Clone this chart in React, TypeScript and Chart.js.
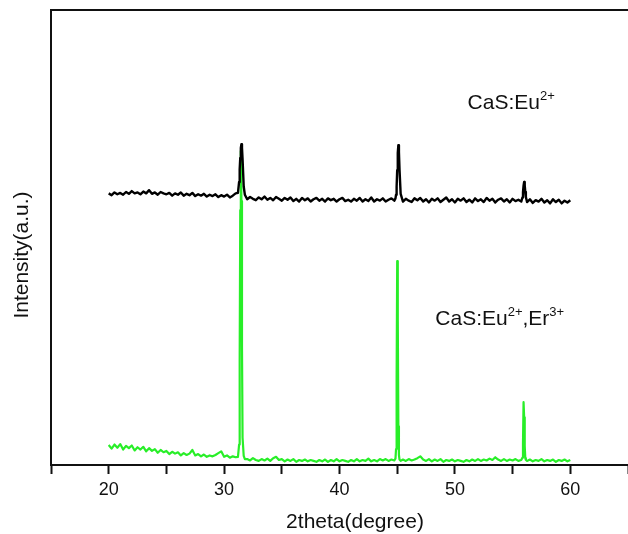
import React, { useEffect, useRef } from 'react';
import { Chart, registerables } from 'chart.js';

Chart.register(...registerables);

// 2theta positions (degree)
const twoTheta: number[] = [
  // 20 – 31
  20, 20.25, 20.5, 20.75, 21, 21.25, 21.5, 21.75, 22, 22.25,
  22.5, 22.75, 23, 23.25, 23.5, 23.75, 24, 24.25, 24.5, 24.75,
  25, 25.25, 25.5, 25.75, 26, 26.25, 26.5, 26.75, 27, 27.25,
  27.5, 27.75, 28, 28.25, 28.5, 28.75, 29, 29.25, 29.5, 29.75,
  30, 30.25, 30.5, 30.75, 31,
  // peak ~31.5
  31.2, 31.3, 31.35, 31.4, 31.45, 31.5, 31.55, 31.6, 31.7, 31.8,
  // 32 – 44.75
  32, 32.25, 32.5, 32.75, 33, 33.25, 33.5, 33.75, 34, 34.25, 34.5, 34.75,
  35, 35.25, 35.5, 35.75, 36, 36.25, 36.5, 36.75, 37, 37.25, 37.5, 37.75,
  38, 38.25, 38.5, 38.75, 39, 39.25, 39.5, 39.75, 40, 40.25, 40.5, 40.75,
  41, 41.25, 41.5, 41.75, 42, 42.25, 42.5, 42.75, 43, 43.25, 43.5, 43.75,
  44, 44.25, 44.5, 44.75,
  // peak ~45
  44.85, 44.9, 44.95, 45.0, 45.05, 45.1, 45.15, 45.2, 45.3,
  // 45.5 – 55.75
  45.5, 45.75, 46, 46.25, 46.5, 46.75, 47, 47.25, 47.5, 47.75,
  48, 48.25, 48.5, 48.75, 49, 49.25, 49.5, 49.75, 50, 50.25,
  50.5, 50.75, 51, 51.25, 51.5, 51.75, 52, 52.25, 52.5, 52.75,
  53, 53.25, 53.5, 53.75, 54, 54.25, 54.5, 54.75, 55, 55.25,
  55.5, 55.75,
  // peak ~56
  55.85, 55.9, 55.95, 56.0, 56.05, 56.1, 56.15,
  // 56.25 – 60
  56.25, 56.5, 56.75, 57, 57.25, 57.5, 57.75, 58, 58.25, 58.5,
  58.75, 59, 59.25, 59.5, 59.75, 60,
];

// CaS:Eu2+ (offset trace, black)
const casEu: number[] = [
  597, 593, 599, 595, 598, 594, 600, 596, 602, 597,
  599, 595, 601, 597, 604, 596, 599, 594, 600, 597,
  595, 598, 592, 597, 594, 599, 592, 596, 593, 598,
  591, 595, 592, 596, 590, 594, 591, 595, 589, 593,
  590, 594, 588, 592, 597,
  598, 622, 650, 675, 697, 705, 697, 672, 612, 594,
  584, 589, 585, 582, 588, 584, 590, 583, 587, 582, 589, 585,
  581, 587, 583, 588, 580, 585, 579, 587, 582, 586, 579, 584,
  587, 581, 585, 579, 586, 582, 585, 579, 584, 587, 580, 583,
  579, 585, 581, 587, 579, 584, 580, 588, 579, 584, 581, 586,
  579, 583, 586, 581,
  586, 594, 612, 648, 686, 703, 688, 650, 596,
  579, 585, 581, 578, 586, 582, 587, 579, 584, 577,
  585, 581, 586, 578, 583, 588, 579, 584, 577, 585,
  581, 586, 578, 583, 577, 586, 580, 584, 578, 587,
  581, 585, 577, 583, 586, 579, 584, 577, 585, 580,
  583, 579,
  588, 600, 614, 622, 615, 600, 589,
  578, 584, 576, 582, 579, 585, 577, 582, 575, 584,
  578, 583, 575, 581, 577, 582,
];

// CaS:Eu2+,Er3+ (green)
const casEuEr: number[] = [
  44, 36, 45, 38, 46, 34, 42, 37, 43, 32,
  39, 34, 40, 30, 37, 31, 35, 27, 33, 28,
  31, 24, 29, 25, 28, 21, 26, 22, 25, 33,
  21, 24, 19, 23, 18, 21, 19, 22, 26, 30,
  18, 21, 16, 19, 17,
  18, 45, 230, 560, 690, 580, 260, 60, 20, 13,
  13, 10, 15, 11, 9, 13, 10, 14, 9, 15, 18, 11,
  13, 8, 12, 9, 13, 7, 11, 9, 12, 8, 11, 9,
  7, 11, 8, 12, 7, 11, 8, 13, 8, 11, 9, 7,
  11, 8, 13, 8, 11, 9, 14, 8, 11, 8, 13, 10,
  13, 9, 12, 10,
  14, 35, 190, 448, 320, 85, 22, 12, 9,
  12, 9, 13, 10, 12, 15, 19, 12, 9, 13,
  8, 12, 9, 13, 7, 11, 9, 12, 8, 11,
  9, 7, 11, 8, 12, 9, 13, 9, 12, 10,
  14, 11, 17, 12, 9, 13, 9, 12, 10, 13,
  9, 11,
  16, 48, 138, 105, 42, 15, 11,
  9, 12, 8, 11, 9, 13, 8, 11, 9, 12,
  7, 11, 9, 12, 8, 11,
];

const xTickLabels: number[] = [20, 30, 40, 50, 60];

const FONT = "'Liberation Sans', Arial, Helvetica, sans-serif";
const INK = '#111111';

type Part = { t: string; sup: boolean };
const annotations: { x: number; y: number; parts: Part[] }[] = [
  { x: 51.1, y: 782, parts: [{ t: 'CaS:Eu', sup: false }, { t: '2+', sup: true }] },
  {
    x: 48.3,
    y: 308,
    parts: [
      { t: 'CaS:Eu', sup: false },
      { t: '2+', sup: true },
      { t: ',Er', sup: false },
      { t: '3+', sup: true },
    ],
  },
];

const decorPlugin = {
  id: 'decor',
  afterDatasetsDraw(chart: any) {
    const { ctx, chartArea, scales } = chart;
    ctx.save();
    // top frame line
    ctx.strokeStyle = INK;
    ctx.lineWidth = 2;
    ctx.beginPath();
    ctx.moveTo(chartArea.left - 1, chartArea.top);
    ctx.lineTo(chartArea.right, chartArea.top);
    ctx.stroke();
    // series labels
    ctx.fillStyle = INK;
    ctx.textBaseline = 'alphabetic';
    ctx.textAlign = 'left';
    for (const a of annotations) {
      let px = scales.x.getPixelForValue(a.x);
      const py = scales.y.getPixelForValue(a.y);
      for (const p of a.parts) {
        ctx.font = p.sup ? `13px ${FONT}` : `21px ${FONT}`;
        ctx.fillText(p.t, px, p.sup ? py - 9 : py);
        px += ctx.measureText(p.t).width;
      }
    }
    // axis titles
    ctx.textAlign = 'center';
    ctx.textBaseline = 'middle';
    ctx.font = `21px ${FONT}`;
    ctx.fillText('2theta(degree)', 355, 522);
    ctx.save();
    ctx.translate(22, 255);
    ctx.rotate(-Math.PI / 2);
    ctx.font = `21px ${FONT}`;
    ctx.fillText('Intensity(a.u.)', 0, 0);
    ctx.restore();
    ctx.restore();
  },
};

export default function App() {
  const ref = useRef<HTMLCanvasElement>(null);
  useEffect(() => {
    document.body.style.margin = '0';
    const canvas = ref.current!;
    const chart = new Chart(canvas, {
      type: 'line',
      data: {
        datasets: [
          {
            label: 'CaS:Eu2+',
            data: twoTheta.map((x, i) => ({ x, y: casEu[i] })),
            borderColor: '#000000',
            borderWidth: 2.4,
            borderJoinStyle: 'round',
            pointRadius: 0,
            tension: 0,
          },
          {
            label: 'CaS:Eu2+,Er3+',
            data: twoTheta.map((x, i) => ({ x, y: casEuEr[i] })),
            borderColor: 'rgb(40,238,40)',
            borderWidth: 2.2,
            borderJoinStyle: 'round',
            pointRadius: 0,
            tension: 0,
          },
        ],
      },
      options: {
        animation: false,
        responsive: true,
        maintainAspectRatio: false,
        layout: { padding: { top: 10, right: 0, left: 0, bottom: 0 } },
        plugins: {
          legend: { display: false },
          tooltip: { enabled: false },
        },
        scales: {
          x: {
            type: 'linear',
            min: 15,
            max: 65,
            afterFit: (s: any) => {
              s.height = 69;
              s.paddingLeft = 0;
              s.paddingRight = 0;
            },
            ticks: {
              stepSize: 5,
              autoSkip: false,
              maxRotation: 0,
              padding: 5,
              color: INK,
              font: { family: FONT, size: 18 },
              callback: (v: any) => (xTickLabels.includes(Number(v)) ? String(v) : ''),
            },
            grid: {
              display: true,
              drawOnChartArea: false,
              drawTicks: true,
              tickLength: 9,
              tickWidth: 2,
              tickColor: INK,
            },
            border: { display: true, color: INK, width: 2 },
            title: { display: false, text: '2theta(degree)' },
          },
          y: {
            type: 'linear',
            min: 0,
            max: 1000,
            afterFit: (s: any) => {
              s.width = 51;
            },
            ticks: { display: false },
            grid: { display: false },
            border: { display: true, color: INK, width: 2 },
            title: { display: false, text: 'Intensity(a.u.)' },
          },
        },
      },
      plugins: [decorPlugin],
    });
    return () => chart.destroy();
  }, []);
  return (
    <div style={{ position: 'absolute', left: 0, top: 0, width: 628, height: 534 }}>
      <canvas ref={ref} />
    </div>
  );
}
